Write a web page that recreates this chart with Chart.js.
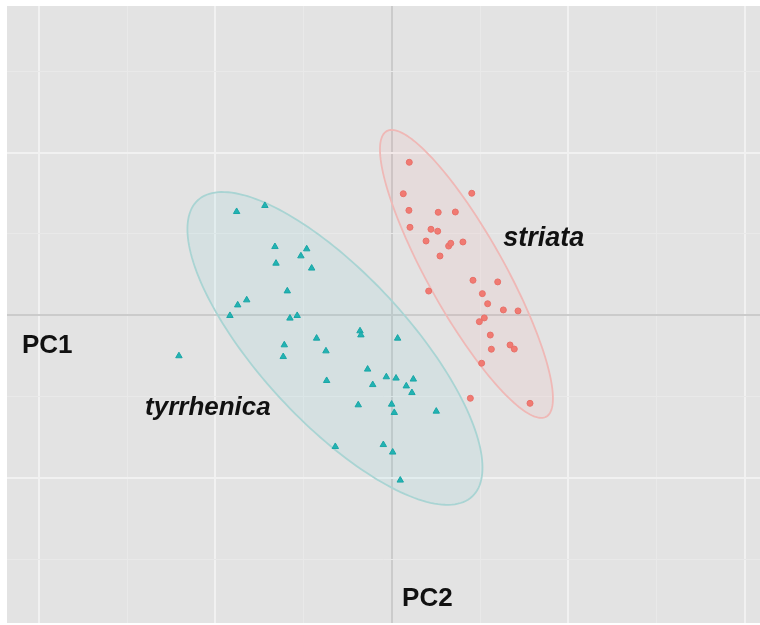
<!DOCTYPE html>
<html>
<head>
<meta charset="utf-8">
<script src="https://cdn.jsdelivr.net/npm/chart.js@4"></script>
<style>
  html, body { margin: 0; padding: 0; background: #ffffff; }
  #pca { display: block; }
</style>
</head>
<body>
<canvas id="pca" width="760" height="625"></canvas>
<script>
// PCA scores (PC1 horizontal, PC2 vertical)
const striataX = [0.098, 0.064, 0.452, 0.096, 0.262, 0.359, 0.102, 0.221, 0.259, 0.193,
                  0.321, 0.333, 0.402, 0.272, 0.459, 0.599, 0.208, 0.512, 0.542, 0.631,
                  0.714, 0.523, 0.495, 0.557, 0.669, 0.693, 0.563, 0.508, 0.444, 0.782];
const striataY = [0.940, 0.747, 0.750, 0.645, 0.633, 0.635, 0.541, 0.529, 0.517, 0.457,
                  0.426, 0.443, 0.451, 0.365, 0.216, 0.206, 0.150, 0.134, 0.072, 0.034,
                  0.028, -0.015, -0.038, -0.120, -0.181, -0.206, -0.207, -0.293, -0.508, -0.539];

const tyrrX = [-0.880, -0.720, -0.663, -0.483, -0.516, -0.657, -0.455, -0.593, -0.823, -0.874,
               -0.918, -0.578, -0.537, -0.427, -0.610, -0.616, -0.374, -0.370, -1.207, -0.181,
               -0.176, 0.032, -0.138, -0.032, 0.023, 0.121, -0.109, 0.081, 0.113, -0.191,
               -0.002, 0.013, 0.251, -0.321, -0.049, 0.004, 0.047];
const tyrrY = [0.637, 0.674, 0.422, 0.408, 0.365, 0.320, 0.290, 0.150, 0.095, 0.064,
               -0.001, -0.017, -0.001, -0.140, -0.181, -0.253, -0.218, -0.400, -0.248, -0.095,
               -0.120, -0.140, -0.330, -0.377, -0.385, -0.391, -0.425, -0.433, -0.474, -0.549,
               -0.545, -0.596, -0.588, -0.805, -0.793, -0.839, -1.011];

// confidence ellipses: centre, half major axis vector, half minor axis vector (data units)
const striataEllipse = [0.422, 0.255, 0.452, -0.876, 0.189, 0.115];
const tyrrEllipse = [-0.323, -0.202, 0.777, -0.909, 0.308, 0.308];

const xTicks = [-2, -1.5, -1, -0.5, 0, 0.5, 1, 1.5, 2];
const yTicks = [-1.5, -1, -0.5, 0, 0.5, 1, 1.5];

const textLabels = ['PC1', 'PC2', 'tyrrhenica', 'striata'];
const labelX = [-2.096, 0.057, -1.399, 0.630];
const labelY = [-0.230, -1.782, -0.610, 0.426];

const toPoints = (xs, ys) => xs.map((x, i) => ({ x: x, y: ys[i] }));

function gridColor(ctx) {
    const v = ctx.tick.value;
    if (v === 0) return '#cbcbcb';
    if (Number.isInteger(v)) return '#f1f1f1';
    return '#e9e9e9';
}
function gridWidth(ctx) {
    const v = ctx.tick.value;
    if (Number.isInteger(v)) return 2;
    return 1;
}

const panelBg = {
    id: 'panelBg',
    beforeDraw(chart) {
        const a = chart.chartArea;
        const c = chart.ctx;
        c.save();
        c.fillStyle = '#e3e3e3';
        c.fillRect(a.left, a.top, a.right - a.left, a.bottom - a.top);
        c.restore();
    }
};

function drawEllipse(chart, e, stroke, fill) {
    const xs = chart.scales.x, ys = chart.scales.y;
    const c = chart.ctx;
    c.save();
    c.beginPath();
    for (let i = 0; i <= 180; i++) {
        const t = i / 180 * Math.PI * 2;
        const dx = e[0] + e[2] * Math.cos(t) + e[4] * Math.sin(t);
        const dy = e[1] + e[3] * Math.cos(t) + e[5] * Math.sin(t);
        const px = xs.getPixelForValue(dx), py = ys.getPixelForValue(dy);
        if (i === 0) c.moveTo(px, py); else c.lineTo(px, py);
    }
    c.closePath();
    c.fillStyle = fill;
    c.fill();
    c.lineWidth = 1.8;
    c.strokeStyle = stroke;
    c.stroke();
    c.restore();
}

const ellipses = {
    id: 'ellipses',
    beforeDatasetsDraw(chart) {
        drawEllipse(chart, tyrrEllipse, '#a9d4d3', 'rgba(0, 191, 196, 0.06)');
        drawEllipse(chart, striataEllipse, '#efb8b6', 'rgba(248, 118, 109, 0.07)');
    }
};

const annotations = {
    id: 'annotations',
    afterDatasetsDraw(chart) {
        const c = chart.ctx;
        c.save();
        c.fillStyle = '#111111';
        c.textBaseline = 'alphabetic';
        c.textAlign = 'left';
        textLabels.forEach((txt, i) => {
            const italic = i >= 2;
            const size = i === 3 ? 27 : 26;
            c.font = (italic ? 'italic ' : '') + 'bold ' + size + 'px "Liberation Sans", Arial, sans-serif';
            c.fillText(txt, chart.scales.x.getPixelForValue(labelX[i]), chart.scales.y.getPixelForValue(labelY[i]));
        });
        c.restore();
    }
};

new Chart(document.getElementById('pca').getContext('2d'), {
    type: 'scatter',
    data: {
        datasets: [{
            label: 'striata',
            data: toPoints(striataX, striataY),
            pointStyle: 'circle',
            pointRadius: 3,
            backgroundColor: '#f17a72',
            borderColor: '#e8716a',
            borderWidth: 1
        }, {
            label: 'tyrrhenica',
            data: toPoints(tyrrX, tyrrY),
            pointStyle: 'triangle',
            pointRadius: 3.7,
            backgroundColor: '#22b3b3',
            borderColor: '#1aa6a6',
            borderWidth: 1
        }]
    },
    options: {
        responsive: false,
        animation: false,
        layout: { autoPadding: false, padding: { left: 7, top: 6, right: 0, bottom: 2 } },
        scales: {
            x: {
                type: 'linear',
                min: -2.181, max: 2.085,
                afterBuildTicks: (s) => { s.ticks = xTicks.map(v => ({ value: v })); },
                ticks: { display: false, padding: 0 },
                border: { display: false },
                grid: { color: gridColor, lineWidth: gridWidth, drawTicks: false, tickLength: 0 }
            },
            y: {
                type: 'linear',
                min: -1.887, max: 1.899,
                afterBuildTicks: (s) => { s.ticks = yTicks.map(v => ({ value: v })); },
                ticks: { display: false, padding: 0 },
                border: { display: false },
                grid: { color: gridColor, lineWidth: gridWidth, drawTicks: false, tickLength: 0 }
            }
        },
        plugins: {
            legend: { display: false },
            tooltip: { enabled: false }
        }
    },
    plugins: [panelBg, ellipses, annotations]
});
</script>
</body>
</html>
